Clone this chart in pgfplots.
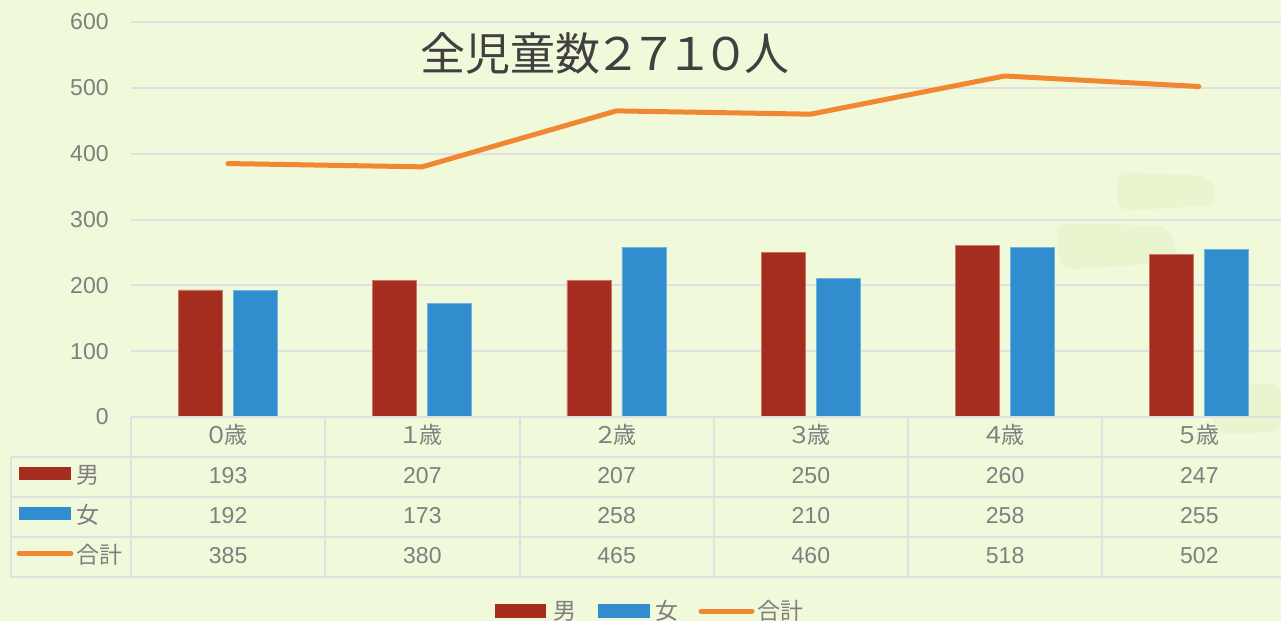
\documentclass[border=0pt]{standalone}
\usepackage{fontspec}
\setmainfont{Liberation Sans}
\newfontfamily\jp{Noto Sans CJK JP}
\usepackage{graphicx}
\usepackage{pgfplots}
\pgfplotsset{compat=1.18}

\definecolor{bg}{RGB}{240,249,218}
\definecolor{smudge}{RGB}{233,245,206}
\definecolor{gridc}{RGB}{224,224,226}
\definecolor{tgray}{RGB}{127,127,127}
\definecolor{ttitle}{RGB}{64,64,64}
\definecolor{mred}{RGB}{165,45,32}
\definecolor{mredl}{RGB}{200,120,100}
\definecolor{mblue}{RGB}{49,141,205}
\definecolor{mbluel}{RGB}{110,180,225}
\definecolor{morange}{RGB}{242,135,50}

\newcommand{\tfont}{\fontsize{11.5pt}{13pt}\selectfont}
% full-width digit in a narrower box
\newcommand{\fd}[2][0.72em]{\makebox[#1][c]{\scalebox{1.05}[1]{#2}}}

\begin{document}
\begin{tikzpicture}
% background and faint brush marks
\begin{scope}[x=0.5pt,y=-0.5pt]
  \fill[bg] (0,0) rectangle (1281,621);
  \fill[smudge, rounded corners=6pt] (1116,172) -- (1210,176) -- (1218,205) -- (1118,211) -- cycle;
  \fill[smudge, rounded corners=6pt] (1056,223) -- (1168,226) -- (1180,262) -- (1060,270) -- cycle;
  \fill[smudge, rounded corners=6pt] (1208,385) -- (1281,383) -- (1281,432) -- (1215,434) -- cycle;
\end{scope}

\begin{axis}[
  scale only axis,
  width=582.5pt, height=197.5pt,
  at={(65.5pt,-208.5pt)}, anchor=south west,
  xmin=-0.5, xmax=5.5,
  ymin=0, ymax=600,
  axis line style={draw=none},
  major tick length=0pt,
  xtick=\empty,
  ytick={0,100,...,600},
  ymajorgrids,
  grid style={color=gridc, line width=1pt},
  /pgf/number format/assume math mode=true,
  yticklabel style={font=\tfont, text=tgray, anchor=east, inner sep=0pt, xshift=-11pt},
  clip=false,
]
% 男
\addplot[ybar, bar width=22pt, bar shift=-13.75pt, fill=mred, draw=mredl, line width=0.4pt]
  coordinates {(0,193) (1,207) (2,207) (3,250) (4,260) (5,247)};
% 女
\addplot[ybar, bar width=22pt, bar shift=13.75pt, fill=mblue, draw=mbluel, line width=0.4pt]
  coordinates {(0,192) (1,173) (2,258) (3,210) (4,258) (5,255)};
% 合計
\addplot[sharp plot, color=morange, line width=2.5pt, line cap=round, line join=round]
  coordinates {(0,385) (1,380) (2,465) (3,460) (4,518) (5,502)};
\end{axis}

\begin{scope}[x=0.5pt,y=-0.5pt]
  % data table grid
  \draw[gridc, line width=1pt] (131,417) -- (1300,417);
  \foreach \yy in {456.5,496.5,536.5,576.5}
    \draw[gridc, line width=1pt] (11,\yy) -- (1300,\yy);
  \draw[gridc, line width=1pt] (11,456.5) -- (11,576.5);
  \foreach \i in {0,...,6}
    \draw[gridc, line width=1pt] ({131+194.25*\i},417) -- ({131+194.25*\i},576.5);

  % header row
  \foreach \lab [count=\i from 0] in {０,１,２,３,４,５}
    \node[anchor=base, inner sep=0pt, text=tgray, font=\jp\tfont] at ({131+194.25*(\i+0.5)},443.5) {\fd{\lab}歳};
  % values
  \foreach \v [count=\i from 0] in {193,207,207,250,260,247}
    \node[anchor=base, inner sep=0pt, text=tgray, font=\tfont] at ({131+194.25*(\i+0.5)},483.5) {\v};
  \foreach \v [count=\i from 0] in {192,173,258,210,258,255}
    \node[anchor=base, inner sep=0pt, text=tgray, font=\tfont] at ({131+194.25*(\i+0.5)},523.5) {\v};
  \foreach \v [count=\i from 0] in {385,380,465,460,518,502}
    \node[anchor=base, inner sep=0pt, text=tgray, font=\tfont] at ({131+194.25*(\i+0.5)},563.5) {\v};

  % row keys
  \fill[mred] (19,467) rectangle (71,480);
  \node[anchor=base west, inner sep=0pt, text=tgray, font=\jp\tfont] at (76,483.5) {男};
  \fill[mblue] (19,507) rectangle (71,520);
  \node[anchor=base west, inner sep=0pt, text=tgray, font=\jp\tfont] at (76,523.5) {女};
  \draw[morange, line width=2.5pt, line cap=round] (19,553.5) -- (71,553.5);
  \node[anchor=base west, inner sep=0pt, text=tgray, font=\jp\tfont] at (76,563.5) {合計};

  % bottom legend
  \fill[mred] (495,604) rectangle (546,618);
  \node[anchor=base west, inner sep=0pt, text=tgray, font=\jp\tfont] at (553,619) {男};
  \fill[mblue] (598,604) rectangle (650,618);
  \node[anchor=base west, inner sep=0pt, text=tgray, font=\jp\tfont] at (655,619) {女};
  \draw[morange, line width=2.5pt, line cap=round] (701,611) -- (752,611);
  \node[anchor=base west, inner sep=0pt, text=tgray, font=\jp\tfont] at (757,619) {合計};

  % title
  \node[anchor=base, inner sep=0pt, text=ttitle, font=\jp\fontsize{22.5pt}{26pt}\selectfont] at (604.5,70.5)
    {全児童数\fd[0.8em]{２}\fd[0.8em]{７}\fd[0.8em]{１}\fd[0.8em]{０}人};
\end{scope}

\pgfresetboundingbox
\useasboundingbox (0pt,0pt) rectangle (640.5pt,-310.5pt);
\end{tikzpicture}
\end{document}
